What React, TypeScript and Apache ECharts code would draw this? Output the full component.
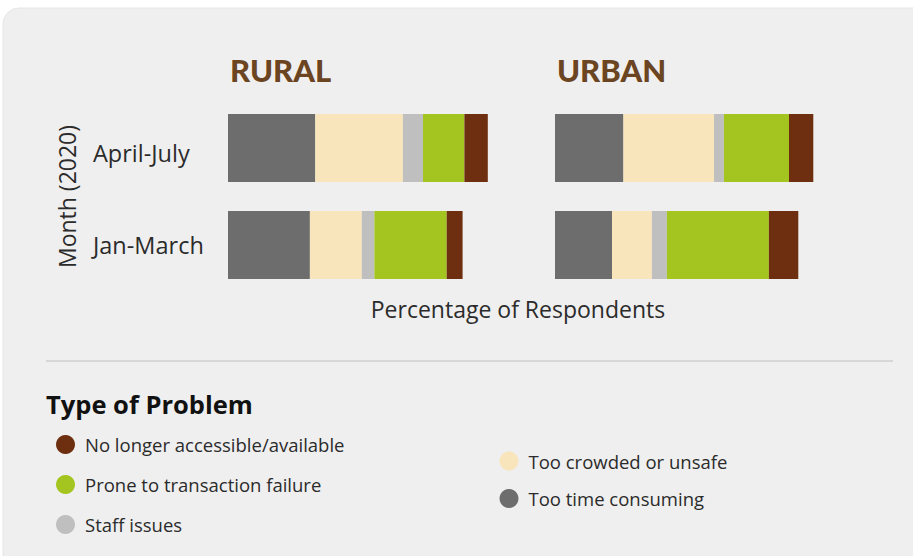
import React, { useEffect, useRef } from "react";
import * as echarts from "echarts";

const months = ["Jan-March", "April-July"];
const problems = [
  "Too time consuming",
  "Too crowded or unsafe",
  "Staff issues",
  "Prone to transaction failure",
  "No longer accessible/available",
];
const colors = ["#6d6d6d", "#f9e5bb", "#bfbfbf", "#a4c520", "#6e2f10"];

// values in % of respondents, order: [Jan-March, April-July]
const ruralTime = [27.3, 29.1];
const ruralCrowded = [17.3, 29.2];
const ruralStaff = [4.2, 6.7];
const ruralFailure = [24.1, 13.8];
const ruralAccess = [5.3, 7.8];

const urbanTime = [19.0, 22.8];
const urbanCrowded = [13.3, 30.2];
const urbanStaff = [5.0, 3.3];
const urbanFailure = [34.0, 21.7];
const urbanAccess = [9.8, 8.1];

const ruralData = [ruralTime, ruralCrowded, ruralStaff, ruralFailure, ruralAccess];
const urbanData = [urbanTime, urbanCrowded, urbanStaff, urbanFailure, urbanAccess];

const FONT = "'Open Sans', sans-serif";

export default function App() {
  const ref = useRef<HTMLDivElement>(null);
  useEffect(() => {
    if (!ref.current) return;
    const chart = echarts.init(ref.current, undefined, { renderer: "svg" });
    const series: any[] = [];
    [ruralData, urbanData].forEach((dataset, gi) => {
      dataset.forEach((vals, i) => {
        series.push({
          type: "bar",
          name: problems[i],
          stack: gi === 0 ? "rural" : "urban",
          xAxisIndex: gi,
          yAxisIndex: gi,
          barWidth: 68,
          data: vals,
          itemStyle: { color: colors[i] },
          emphasis: { disabled: true },
        });
      });
    });
    const xAxisBase = {
      type: "value",
      min: 0,
      max: 100,
      show: false,
    };
    const yAxisBase = {
      type: "category",
      data: months,
      axisLine: { show: false },
      axisTick: { show: false },
      splitLine: { show: false },
    };
    const legendText = {
      fontFamily: FONT,
      fontSize: 18.5,
      lineHeight: 19,
      color: "#2b2b2b",
      padding: [0, 0, 0, 5],
    };
    const labelStyle = { fontFamily: FONT, fontSize: 23.5, color: "#2b2b2b" };
    chart.setOption({
      animation: false,
      backgroundColor: "#ffffff",
      textStyle: { fontFamily: FONT },
      graphic: [
        {
          type: "rect",
          z: -10,
          shape: { x: 3, y: 8, width: 940, height: 580, r: [16, 0, 0, 0] },
          style: { fill: "#efefef", stroke: "#e6e6e6", lineWidth: 1 },
        },
        {
          type: "line",
          shape: { x1: 46, y1: 361, x2: 893, y2: 361 },
          style: { stroke: "#cfcfcf", lineWidth: 1.5 },
        },
        {
          type: "text",
          x: 518,
          y: 309,
          style: {
            text: "Percentage of Respondents",
            fontFamily: FONT,
            fontSize: 23,
            fill: "#2b2b2b",
            align: "center",
            verticalAlign: "middle",
          },
        },
      ],
      title: [
        {
          text: "RURAL",
          left: 225,
          top: 49,
          padding: 5,
          textStyle: { fontFamily: "Lato", fontWeight: 900, fontSize: 31, color: "#6b4421" },
        },
        {
          text: "URBAN",
          left: 552,
          top: 49,
          padding: 5,
          textStyle: { fontFamily: "Lato", fontWeight: 900, fontSize: 31, color: "#6b4421" },
        },
        {
          text: "Type of Problem",
          left: 41,
          top: 386,
          textStyle: { fontFamily: FONT, fontWeight: "bold", fontSize: 25.5, color: "#111111" },
        },
      ],
      legend: [
        {
          data: [problems[4], problems[3], problems[2]],
          orient: "vertical",
          left: 56,
          top: 435,
          padding: 0,
          icon: "circle",
          itemWidth: 19,
          itemHeight: 19,
          itemGap: 21,
          selectedMode: false,
          textStyle: legendText,
        },
        {
          data: [problems[1], problems[0]],
          orient: "vertical",
          left: 499.5,
          top: 451.5,
          padding: 0,
          icon: "circle",
          itemWidth: 19,
          itemHeight: 19,
          itemGap: 18.5,
          selectedMode: false,
          textStyle: legendText,
        },
      ],
      grid: [
        { left: 228, top: 99.5, width: 300, height: 194 },
        { left: 555, top: 99.5, width: 300, height: 194 },
      ],
      xAxis: [
        { ...xAxisBase, gridIndex: 0 },
        { ...xAxisBase, gridIndex: 1 },
      ],
      yAxis: [
        {
          ...yAxisBase,
          gridIndex: 0,
          name: "Month (2020)",
          nameLocation: "middle",
          nameRotate: 90,
          nameGap: 150,
          nameTextStyle: { fontFamily: FONT, fontSize: 23, color: "#2b2b2b" },
          axisLabel: {
            align: "left",
            margin: 135,
            ...labelStyle,
            formatter: (v: string) => (v === "April-July" ? "{low|" + v + "}" : "{mid|" + v + "}"),
            rich: {
              low: { ...labelStyle, padding: [10, 0, 0, 0] },
              mid: { ...labelStyle },
            },
          },
        },
        { ...yAxisBase, gridIndex: 1, axisLabel: { show: false } },
      ],
      series,
    });
    return () => chart.dispose();
  }, []);
  return (
    <div
      ref={ref}
      style={{ position: "absolute", left: 0, top: 0, width: 913, height: 556 }}
    />
  );
}
